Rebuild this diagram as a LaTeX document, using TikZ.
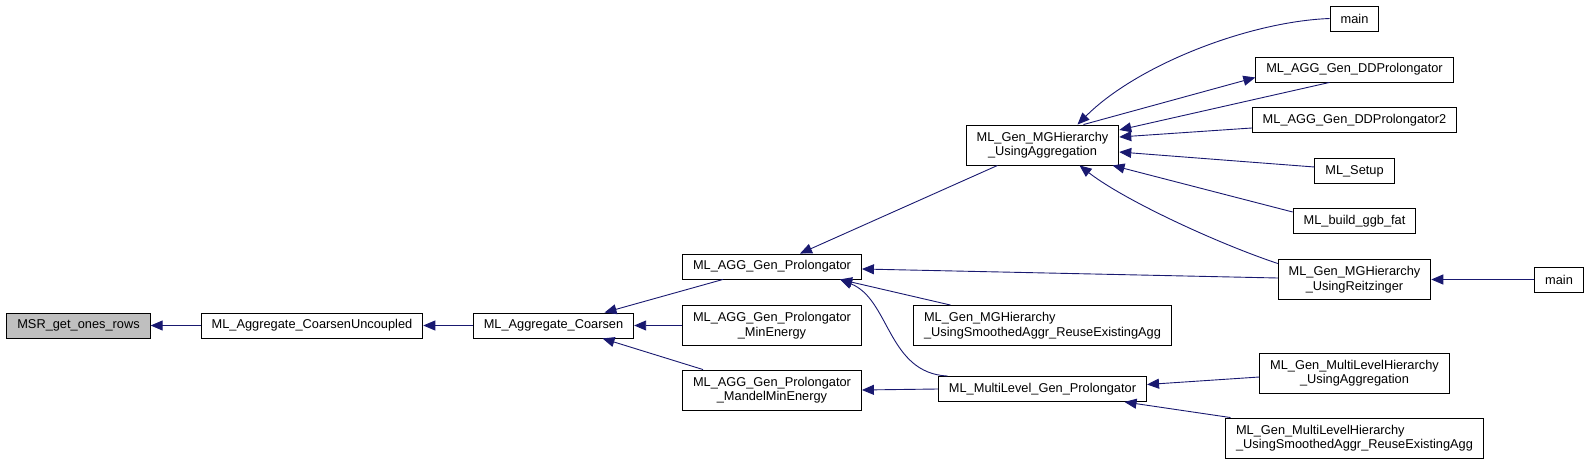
\documentclass[tikz,border=0pt]{standalone}
\usepackage{fontspec}
\setmainfont{Liberation Sans}
\usetikzlibrary{arrows.meta}
\definecolor{edgeBlue}{RGB}{25,25,112}
\definecolor{rootGrey}{RGB}{191,191,191}

\begin{document}
\begin{tikzpicture}[x=1pt, y=-1pt,
    fn/.style={draw=black, line width=0.9pt, fill=white, inner xsep=10.5pt, inner ysep=2pt,
        minimum height=25pt, font=\fontsize{12.8}{14.5}\selectfont},
    fnc/.style={fn, minimum height=40pt, align=center},
    fnl/.style={fn, minimum height=40pt, align=left},
    call/.style={edgeBlue, line width=0.9pt, -{Triangle[length=12pt, width=10pt]}}]
    \useasboundingbox (0,0) rectangle (1591,465);

    % columns, left to right
    \node[fn, fill=rootGrey] (msr) at (78.5,325.5) {MSR\_get\_ones\_rows};
    \node[fn] (cu) at (312,325.5) {ML\_Aggregate\_CoarsenUncoupled};
    \node[fn] (co) at (553.5,325.5) {ML\_Aggregate\_Coarsen};
    \node[fn] (agp) at (772,266.5) {ML\_AGG\_Gen\_Prolongator};
    \node[fnc] (agpmin) at (772,325.5) {ML\_AGG\_Gen\_Prolongator\\\_MinEnergy};
    \node[fnc] (agpmandel) at (772,390) {ML\_AGG\_Gen\_Prolongator\\\_MandelMinEnergy};
    \node[fnc] (mgha) at (1042.5,145) {ML\_Gen\_MGHierarchy\\\_UsingAggregation};
    \node[fnl] (mghs) at (1042.5,325.5) {ML\_Gen\_MGHierarchy\\\_UsingSmoothedAggr\_ReuseExistingAgg};
    \node[fn] (mlgp) at (1042.5,389) {ML\_MultiLevel\_Gen\_Prolongator};
    \node[fn] (mainA) at (1354.5,18.5) {main};
    \node[fn] (ddp) at (1354.5,69.5) {ML\_AGG\_Gen\_DDProlongator};
    \node[fn] (ddp2) at (1354.5,120) {ML\_AGG\_Gen\_DDProlongator2};
    \node[fn] (setup) at (1354.5,171) {ML\_Setup};
    \node[fn] (ggb) at (1354.5,221) {ML\_build\_ggb\_fat};
    \node[fnc] (reitz) at (1354.5,279.5) {ML\_Gen\_MGHierarchy\\\_UsingReitzinger};
    \node[fn] (mainB) at (1559,279.5) {main};
    \node[fnc] (mlha) at (1354.5,373) {ML\_Gen\_MultiLevelHierarchy\\\_UsingAggregation};
    \node[fnl] (mlhs) at (1354.5,438) {ML\_Gen\_MultiLevelHierarchy\\\_UsingSmoothedAggr\_ReuseExistingAgg};

    \draw[call] (cu.west) -- (msr.east);
    \draw[call] (co.west) -- (cu.east);
    \draw[call] ([xshift=-49]agp.south) -- ([xshift=51]co.north);
    \draw[call] (agpmin.west) -- (co.east);
    \draw[call] ([xshift=-69]agpmandel.north) -- ([xshift=49]co.south);
    \draw[call] ([xshift=-45]mgha.south) -- ([xshift=28]agp.north);
    \draw[call] ([yshift=1.5]reitz.west) -- ([yshift=-2.5]agp.east);
    \draw[call] ([xshift=-92]mghs.north) -- ([xshift=68]agp.south);
    \draw[call] ([xshift=-95]mlgp.north) .. controls +(-60,-3) and +(50,20) .. ([xshift=68]agp.south);
    \draw[call] (mlgp.west) -- (agpmandel.east);
    \draw[call] (mainA.west) .. controls +(-80,3) and +(60,-60) .. ([xshift=35]mgha.north);
    \draw[call] ([xshift=41]mgha.north) -- ([yshift=-8]ddp.west);
    \draw[call] ([xshift=-25]ddp.south) -- ([yshift=15]mgha.east);
    \draw[call] ([yshift=-8]ddp2.west) -- ([yshift=8]mgha.east);
    \draw[call] ([yshift=4]setup.west) -- ([yshift=-7]mgha.east);
    \draw[call] ([yshift=9]ggb.west) -- ([xshift=70]mgha.south);
    \draw[call] ([yshift=16]reitz.west) .. controls +(-60,-20) and +(45,35) .. ([xshift=37]mgha.south);
    \draw[call] (mainB.west) -- (reitz.east);
    \draw[call] ([yshift=-4]mlha.west) -- ([yshift=4.5]mlgp.east);
    \draw[call] ([xshift=-124]mlhs.north) -- ([xshift=82]mlgp.south);
\end{tikzpicture}
\end{document}
